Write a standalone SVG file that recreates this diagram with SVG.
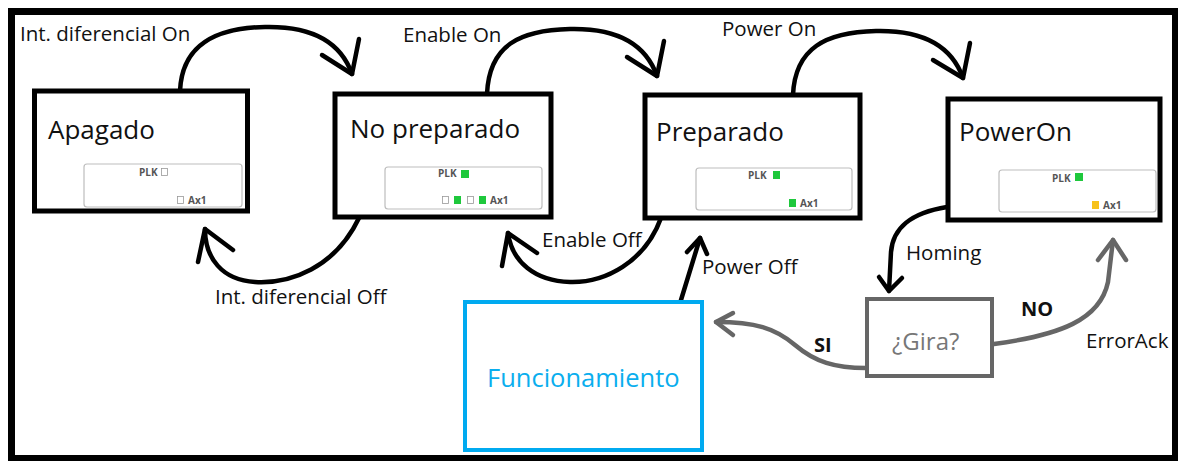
<svg xmlns="http://www.w3.org/2000/svg" width="1178" height="461" viewBox="0 0 1178 461">
  <style>
    .state { fill: #fff; stroke: #000; stroke-width: 5; }
    .title { font-family: "Open Sans", "Noto Sans", sans-serif; font-size: 26px; fill: #111; }
    .panel { fill: #fff; stroke: #bdbdbd; stroke-width: 1.2; }
    .tiny { font-family: "Open Sans", "Noto Sans", sans-serif; font-size: 10px; font-weight: bold; fill: #555; }
    .led-off { fill: #fff; stroke: #999; stroke-width: 0.8; }
    .led-on { fill: #1ec83c; }
    .led-warn { fill: #f7c21b; }
    .lbl { font-family: "Open Sans", "Noto Sans", sans-serif; font-size: 20.5px; fill: #111; }
    .bold { font-weight: bold; font-size: 20px; }
    .wire { fill: none; stroke: #000; stroke-width: 4.5; stroke-linecap: round; stroke-linejoin: round; }
    .wire.gray { stroke: #666; }
  </style>

  <!-- outer frame -->
  <rect x="0" y="0" width="1178" height="461" fill="#fff"/>
  <rect x="11.5" y="11.5" width="1164" height="447" fill="#fff" stroke="#000" stroke-width="7"/>

  <g id="connectors">
    <!-- Int. diferencial On -->
    <path class="wire" d="M180 91 C182 45 215 28 265 27 C310 26 340 40 352 74"/>
    <path class="wire" d="M322 55 L352 74 L359 39"/>
    <!-- Enable On -->
    <path class="wire" d="M487 94 C489 45 520 30 570 29 C615 28 645 42 657 76"/>
    <path class="wire" d="M627 57 L657 76 L664 41"/>
    <!-- Power On -->
    <path class="wire" d="M793 95 C795 48 826 32 876 31 C921 30 951 44 963 78"/>
    <path class="wire" d="M933 60 L963 78 L970 43"/>
    <!-- Int. diferencial Off -->
    <path class="wire" d="M359 218 C335 268 290 284 255 282 C222 280 205 258 205 229"/>
    <path class="wire" d="M198 262 L205 229 L233 250"/>
    <!-- Enable Off -->
    <path class="wire" d="M661 218 C645 262 605 283 570 282 C535 281 512 262 508 233"/>
    <path class="wire" d="M502 266 L508 233 L537 253"/>
    <!-- Power Off -->
    <path class="wire" d="M681 300 L700 238"/>
    <path class="wire" d="M687 252 L700 238 L707 254"/>
    <!-- Homing -->
    <path class="wire" d="M947 207 C910 213 893 228 891 252 L889 291"/>
    <path class="wire" d="M879 277 L889 291 L902 278"/>
    <!-- NO / ErrorAck -->
    <path class="wire gray" d="M994 344 C1060 335 1100 320 1108 282 L1113 240"/>
    <path class="wire gray" d="M1098 260 L1113 240 L1126 260"/>
    <!-- SI -->
    <path class="wire gray" d="M866 368 C835 368 815 362 795 345 C775 328 755 322 716 322"/>
    <path class="wire gray" d="M733 313 L716 322 L733 335"/>
  </g>

  <!-- transition labels -->
  <g id="labels">
    <text class="lbl" x="20" y="41">Int. diferencial On</text>
    <text class="lbl" x="403" y="42">Enable On</text>
    <text class="lbl" x="722" y="36">Power On</text>
    <text class="lbl" x="215" y="304">Int. diferencial Off</text>
    <text class="lbl" x="542" y="247">Enable Off</text>
    <text class="lbl" x="702" y="274">Power Off</text>
    <text class="lbl" x="906" y="260">Homing</text>
    <text class="lbl bold" x="1021" y="316">NO</text>
    <text class="lbl" x="1086" y="348">ErrorAck</text>
    <text class="lbl bold" x="814" y="352">SI</text>
  </g>

  <g id="apagado">
    <rect class="state" x="34.5" y="91" width="213" height="120"/>
    <text class="title" x="48" y="139">Apagado</text>
    <rect class="panel" x="84" y="164" width="158" height="43" rx="3"/>
    <text class="tiny" x="139" y="176">PLK</text>
    <rect class="led-off" x="161.5" y="168.5" width="6" height="7"/>
    <rect class="led-off" x="177.5" y="196.5" width="6" height="7"/>
    <text class="tiny" x="188" y="204">Ax1</text>
  </g>

  <g id="no-preparado">
    <rect class="state" x="335" y="94" width="216" height="123"/>
    <text class="title" x="350" y="138">No preparado</text>
    <rect class="panel" x="385" y="167" width="157" height="42" rx="3"/>
    <text class="tiny" x="438" y="177">PLK</text>
    <rect class="led-on" x="461" y="170" width="8" height="8"/>
    <rect class="led-off" x="442.5" y="196.5" width="6" height="7"/>
    <rect class="led-on" x="454" y="196" width="7" height="8"/>
    <rect class="led-off" x="467.5" y="196.5" width="6" height="7"/>
    <rect class="led-on" x="479" y="196" width="7" height="8"/>
    <text class="tiny" x="490" y="204">Ax1</text>
  </g>

  <g id="preparado">
    <rect class="state" x="645" y="95" width="215" height="123"/>
    <text class="title" x="656" y="141">Preparado</text>
    <rect class="panel" x="696" y="168" width="156" height="42" rx="3"/>
    <text class="tiny" x="748" y="179">PLK</text>
    <rect class="led-on" x="773" y="171" width="7" height="8"/>
    <rect class="led-on" x="789" y="199" width="7" height="8"/>
    <text class="tiny" x="800" y="207">Ax1</text>
  </g>

  <g id="poweron">
    <rect class="state" x="948" y="99" width="212" height="121"/>
    <text class="title" x="959" y="141">PowerOn</text>
    <rect class="panel" x="999" y="170" width="157" height="42" rx="3"/>
    <text class="tiny" x="1052" y="182">PLK</text>
    <rect class="led-on" x="1075" y="173" width="8" height="8"/>
    <rect class="led-warn" x="1092" y="201" width="7" height="8"/>
    <text class="tiny" x="1103" y="209">Ax1</text>
  </g>

  <g id="funcionamiento">
    <rect x="465" y="302" width="237" height="148" fill="#fff" stroke="#00aaf0" stroke-width="4"/>
    <text x="487" y="387" font-family="'Open Sans', 'Noto Sans', sans-serif" font-size="25.5" fill="#0aaeee">Funcionamiento</text>
  </g>

  <g id="gira">
    <rect x="867" y="299" width="125" height="77" fill="#fff" stroke="#666" stroke-width="4"/>
    <text x="892" y="350" font-family="'Open Sans', 'Noto Sans', sans-serif" font-size="24" fill="#777">¿Gira?</text>
  </g>
</svg>
